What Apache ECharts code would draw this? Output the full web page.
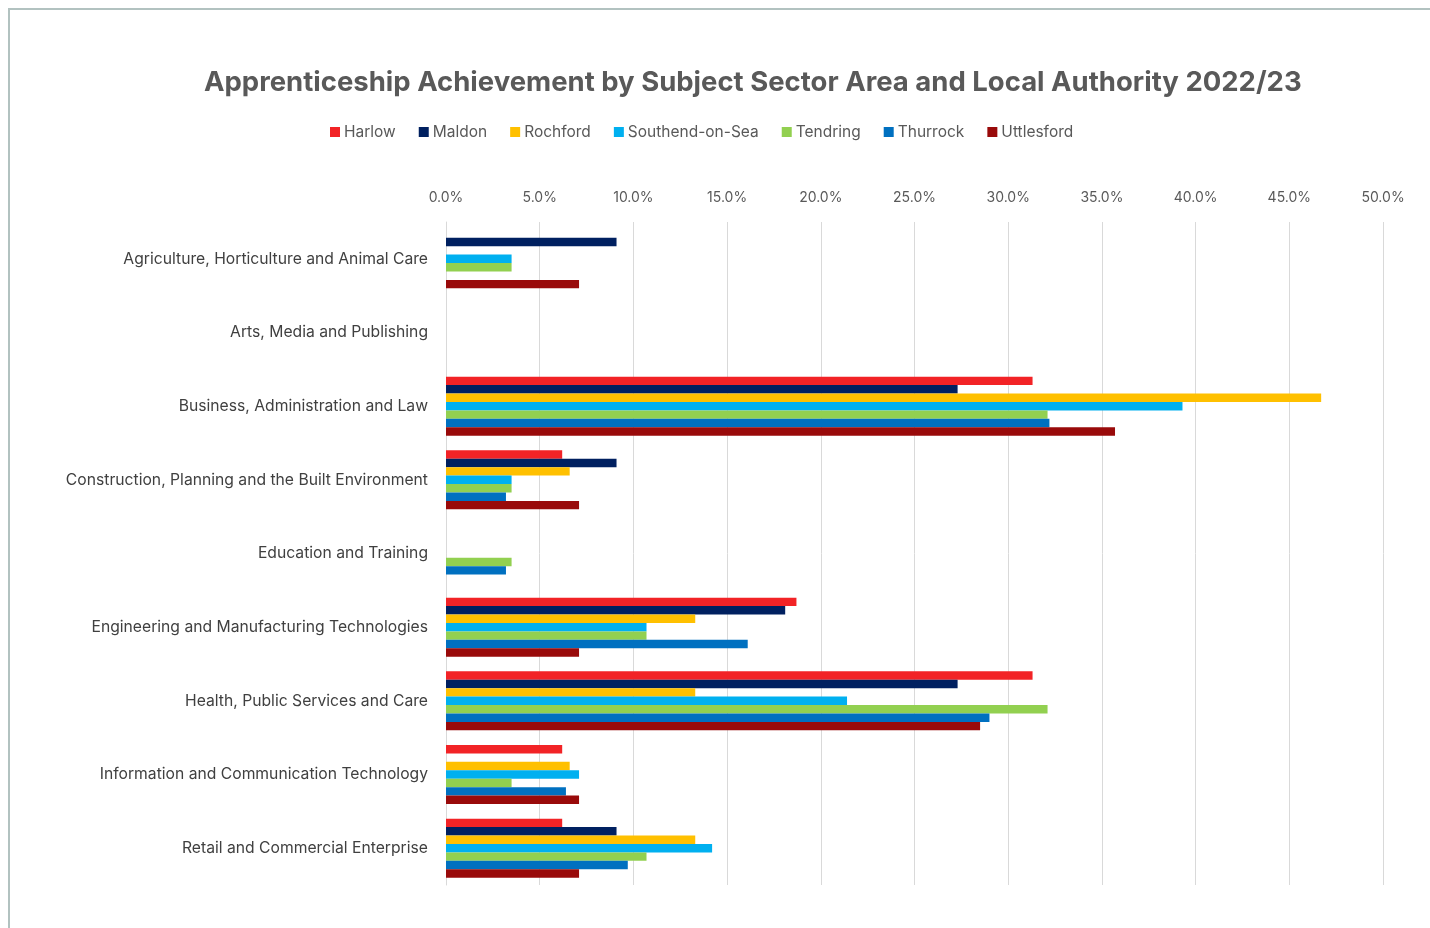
<!DOCTYPE html>
<html>
<head>
    <meta charset="utf-8">
    <title>Apprenticeship Achievement</title>
    <script src="https://cdn.jsdelivr.net/npm/echarts@6/dist/echarts.min.js"></script>
    <style>
        html, body { margin: 0; padding: 0; background: #fff; }
        #main { width: 1430px; height: 928px; }
        #frame { position: absolute; left: 8px; top: 8px; width: 1430px; height: 928px;
                 border-left: 2px solid #b2c2c0; border-top: 2px solid #b2c2c0; pointer-events: none; }
    </style>
</head>
<body>
<div id="main"></div>
<div id="frame"></div>
<script type="text/javascript">
// subject sector areas, top to bottom
var sectors = [
    'Agriculture, Horticulture and Animal Care',
    'Arts, Media and Publishing',
    'Business, Administration and Law',
    'Construction, Planning and the Built Environment',
    'Education and Training',
    'Engineering and Manufacturing Technologies',
    'Health, Public Services and Care',
    'Information and Communication Technology',
    'Retail and Commercial Enterprise'
];

// share of achievements (%), one value per sector
var harlow     = [null, null, 31.3, 6.2, null, 18.7, 31.3, 6.2, 6.2];
var maldon     = [9.1, null, 27.3, 9.1, null, 18.1, 27.3, null, 9.1];
var rochford   = [null, null, 46.7, 6.6, null, 13.3, 13.3, 6.6, 13.3];
var southend   = [3.5, null, 39.3, 3.5, null, 10.7, 21.4, 7.1, 14.2];
var tendring   = [3.5, null, 32.1, 3.5, 3.5, 10.7, 32.1, 3.5, 10.7];
var thurrock   = [null, null, 32.2, 3.2, 3.2, 16.1, 29.0, 6.4, 9.7];
var uttlesford = [7.1, null, 35.7, 7.1, null, 7.1, 28.5, 7.1, 7.1];

var names  = ['Harlow', 'Maldon', 'Rochford', 'Southend-on-Sea', 'Tendring', 'Thurrock', 'Uttlesford'];
var values = [harlow, maldon, rochford, southend, tendring, thurrock, uttlesford];
var colors = ['#F22326', '#002060', '#FFC000', '#00B0F0', '#92D050', '#0070C0', '#990A0A'];

var font = 'Inter, "Noto Sans", sans-serif';

var myChart = echarts.init(document.getElementById('main'));
myChart.setOption({
    animation: false,
    color: colors,
    title: {
        text: 'Apprenticeship Achievement by Subject Sector Area and Local Authority 2022/23',
        left: 204,
        top: 69,
        padding: 0,
        textStyle: { fontFamily: font, fontSize: 27.5, fontWeight: 'bold', color: '#595959' }
    },
    legend: {
        top: 119,
        left: 325,
        itemWidth: 10,
        itemHeight: 10,
        itemGap: 23,
        icon: 'rect',
        textStyle: { fontFamily: font, fontSize: 15.5, color: '#595959', padding: [0, 0, 0, -1] }
    },
    grid: { left: 446, right: 47, top: 222, bottom: 43 },
    xAxis: {
        type: 'value',
        position: 'top',
        min: 0,
        max: 50,
        interval: 5,
        axisLine: { show: false },
        axisTick: { show: false },
        axisLabel: {
            fontFamily: font, fontSize: 14, color: '#595959', margin: 17,
            formatter: function (v) { return v.toFixed(1) + '%'; }
        },
        splitLine: { lineStyle: { color: '#d9d9d9', width: 1 } }
    },
    yAxis: {
        type: 'category',
        data: sectors,
        inverse: true,
        axisLine: { lineStyle: { color: '#d9d9d9' } },
        axisTick: { show: false },
        axisLabel: { fontFamily: font, fontSize: 15.7, color: '#404040', margin: 18 }
    },
    series: names.map(function (n, i) {
        return {
            name: n,
            type: 'bar',
            data: values[i],
            barGap: '0%',
            barCategoryGap: '20%'
        };
    })
});
</script>
</body>
</html>
